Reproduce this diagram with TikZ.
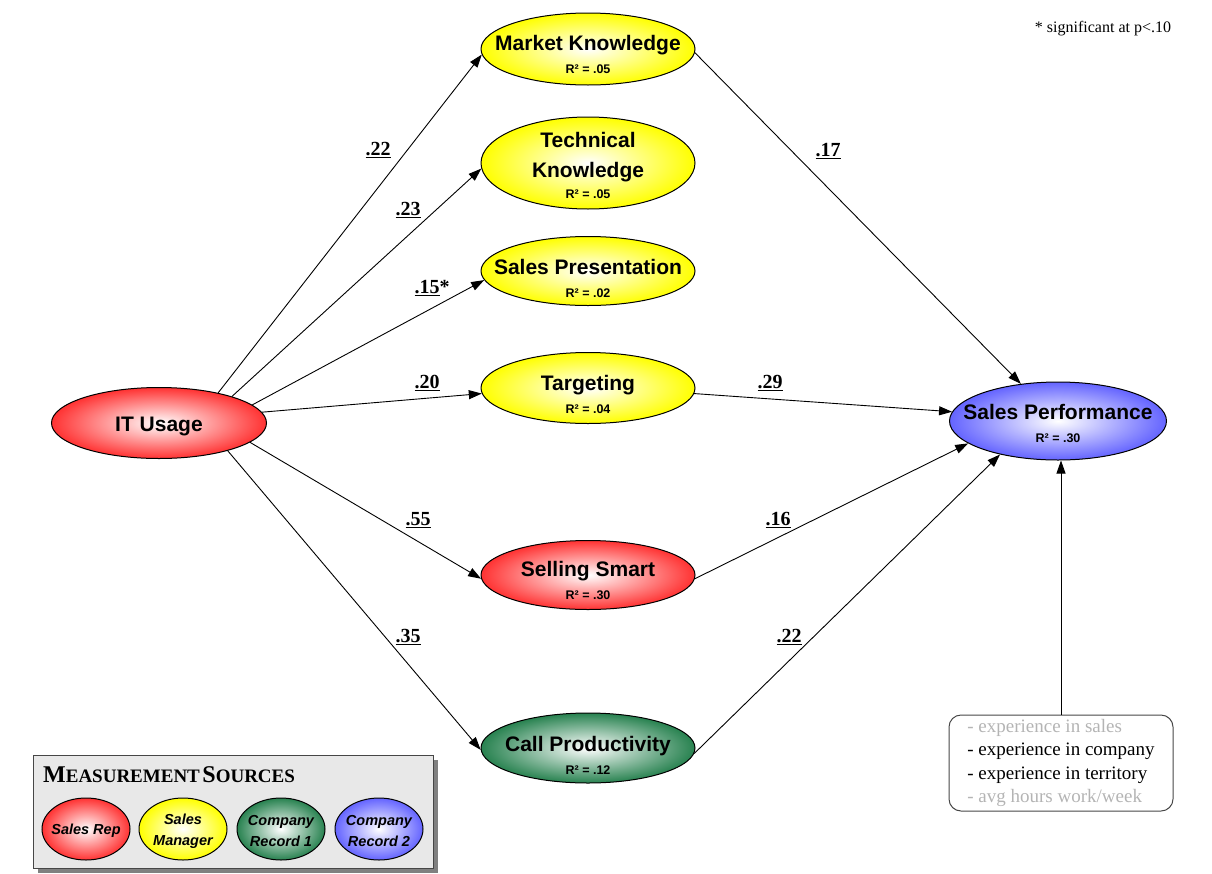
\documentclass[tikz,border=0pt]{standalone}
\usepackage{fontspec}
\setmainfont{Liberation Serif}
\newfontfamily\arialf{Liberation Sans}
\usetikzlibrary{shapes.geometric,arrows.meta,shadows}

\definecolor{cyel}{RGB}{255,255,0}
\definecolor{cred}{RGB}{255,50,50}
\definecolor{cgrn}{RGB}{40,130,80}
\definecolor{cblu}{RGB}{100,100,255}
\definecolor{lgray}{RGB}{232,232,232}
\definecolor{tgray}{RGB}{180,180,180}
\definecolor{bgray}{RGB}{70,70,70}

\newcommand{\rsq}{\fontsize{12.5}{14}\selectfont}

\tikzset{
  lv/.style={ellipse, draw=black, line width=1pt, inner sep=0pt,
             minimum width=214pt, minimum height=#1},
  lv/.default=71pt,
  lsrc/.style={ellipse, draw=black, line width=1pt, inner sep=0pt,
             minimum width=88pt, minimum height=62pt},
  yel/.style={inner color=white, outer color=cyel},
  red/.style={inner color=white, outer color=cred},
  grn/.style={inner color=white, outer color=cgrn},
  blu/.style={inner color=white, outer color=cblu},
  ttl/.style={font=\arialf\bfseries\fontsize{21}{23}\selectfont, align=center,
              inner sep=0pt, yshift=-5pt},
  srct/.style={font=\arialf\bfseries\itshape\fontsize{14.5}{21}\selectfont,
              align=center, inner sep=0pt, yshift=-2pt},
  coef/.style={font=\bfseries\fontsize{20}{20}\selectfont, inner sep=0pt},
  arr/.style={-{Triangle[length=13pt,width=9pt]}, line width=0.9pt},
}

\begin{document}
\begin{tikzpicture}[x=1pt,y=-1pt]
\useasboundingbox (0,0) rectangle (1212,873);

% latent variables
\node[lv=72pt,yel,label={[ttl]center:{Market Knowledge\\{\rsq R² = .05}}}] (mk) at (588,49) {};
\node[lv=92pt,yel,label={[ttl,yshift=2.5pt]center:{Technical\\[7pt]Knowledge\\[-2pt]{\rsq R² = .05}}}] (tk) at (588,163) {};
\node[lv=69pt,yel,label={[ttl,yshift=-2pt]center:{Sales Presentation\\{\rsq R² = .02}}}] (sp) at (588,271) {};
\node[lv=71pt,yel,label={[ttl,yshift=-1pt]center:{Targeting\\{\rsq R² = .04}}}] (tg) at (588,388) {};
\node[lv=69pt,red,label={[ttl]center:{Selling Smart\\{\rsq R² = .30}}}] (ss) at (588,575) {};
\node[lv=70pt,grn,label={[ttl,yshift=-2pt]center:{Call Productivity\\{\rsq R² = .12}}}] (cp) at (588,748) {};
\node[lv=71pt,minimum width=215pt,red,label={[ttl,yshift=2pt]center:{IT Usage}}] (it) at (159,423) {};
\node[lv=78pt,minimum width=217pt,blu,label={[ttl,yshift=3pt]center:{Sales Performance\\{\rsq R² = .30}}}] (perf) at (1058,421) {};

% controls box
\node[draw=bgray, line width=1pt, rounded corners=12pt, minimum width=224pt,
      minimum height=96pt, align=left, inner sep=0pt,
      font=\fontsize{19}{23.3}\selectfont] (ctl) at (1061,763)
  {\textcolor{tgray}{- experience in sales}\\
   - experience in company\\
   - experience in territory\\
   \textcolor{tgray}{- avg hours work/week}};

% note
\node[font=\fontsize{16}{16}\selectfont, inner sep=0pt] (note) at (1103,29) {* significant at p<.10};

% paths from IT usage
\draw[arr] (it.27) -- (mk.183) node[coef] at (378,150) {\underline{.22}};
\draw[arr] (it.20) -- (tk.183) node[coef] at (408,210) {\underline{.23}};
\draw[arr] (it.11) -- (sp.185) node[coef] at (432,288) {\underline{.15}*};
\draw[arr] (it.6) -- (tg.183) node[coef] at (427,383) {\underline{.20}};
\draw[arr] (it.-12) -- (ss.182) node[coef] at (418,520) {\underline{.55}};
\draw[arr] (it.-22) -- (cp.181) node[coef] at (408,637) {\underline{.35}};

% paths to sales performance
\draw[arr] (mk.358) -- (perf.135) node[coef] at (828,151) {\underline{.17}};
\draw[arr] (tg.357) -- (perf.175) node[coef] at (770,383) {\underline{.29}};
\draw[arr] (ss.358) -- (perf.194) node[coef] at (778,520) {\underline{.16}};
\draw[arr] (cp.357) -- (perf.210) node[coef] at (789,637) {\underline{.22}};
\draw[arr] (ctl.north) -- (ctl.north |- perf.south);

% legend
\node[draw=bgray, line width=1pt, fill=lgray, minimum width=400pt, minimum height=113pt,
      anchor=north west, inner sep=0pt,
      drop shadow={shadow xshift=4pt, shadow yshift=-4pt, fill=gray, opacity=1}] (leg) at (33,755) {};
\node[anchor=base west, inner sep=0pt, font=\bfseries] (legt) at (43,782)
  {{\fontsize{24}{24}\selectfont M}{\fontsize{19}{19}\selectfont EASUREMENT}
   {\fontsize{24}{24}\selectfont S}{\fontsize{19}{19}\selectfont OURCES}};
\node[lsrc,red,label={[srct]center:{Sales Rep}}] (s1) at (86,829) {};
\node[lsrc,yel,label={[srct]center:{Sales\\Manager}}] (s2) at (183,829) {};
\node[lsrc,grn,label={[srct]center:{Company\\Record 1}}] (s3) at (281,829) {};
\node[lsrc,blu,label={[srct]center:{Company\\Record 2}}] (s4) at (379,829) {};
\end{tikzpicture}
\end{document}
